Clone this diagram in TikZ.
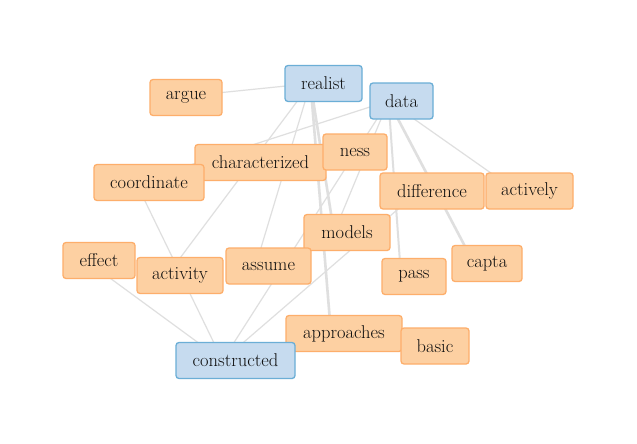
\documentclass[tikz,border=0pt]{standalone}
\usetikzlibrary{backgrounds}
\definecolor{orangeF}{RGB}{253,208,162}
\definecolor{orangeB}{RGB}{253,174,107}
\definecolor{blueF}{RGB}{198,219,239}
\definecolor{blueB}{RGB}{107,174,214}
\definecolor{edgegray}{RGB}{223,223,223}
\definecolor{txt}{RGB}{15,15,15}
\begin{document}
\begin{tikzpicture}[x=1pt,y=-1pt,
  box/.style={rounded corners=3pt, line width=1.3pt, minimum height=36pt, inner sep=0pt,
    font=\fontsize{18.5}{22}\selectfont, text=txt},
  term/.style={box, draw=orangeB, fill=orangeF},
  keyterm/.style={box, draw=blueB, fill=blueF},
  link/.style={draw=edgegray, line width=1.2pt},
  midlink/.style={draw=edgegray, line width=2pt},
  stronglink/.style={draw=edgegray, line width=2.6pt}]
\useasboundingbox (0,0) rectangle (637,444);
\node[keyterm, minimum width=77pt] (realist) at (323.5,83.5) {realist};
\node[keyterm, minimum width=63pt] (data) at (401.5,101) {data};
\node[term, minimum width=72pt] (argue) at (186,97.5) {argue};
\node[term, minimum width=131pt] (characterized) at (260.5,162.5) {characterized};
\node[term, minimum width=110pt] (coordinate) at (149,182.5) {coordinate};
\node[term, minimum width=64pt] (ness) at (355,152) {ness};
\node[term, minimum width=104pt] (difference) at (432,191) {difference};
\node[term, minimum width=87pt] (actively) at (529.5,191) {actively};
\node[term, minimum width=86pt] (models) at (347,232.5) {models};
\node[term, minimum width=72pt] (effect) at (99,260.5) {effect};
\node[term, minimum width=86pt] (activity) at (180,275.5) {activity};
\node[term, minimum width=85pt] (assume) at (268.5,266) {assume};
\node[term, minimum width=70pt] (capta) at (487,263.5) {capta};
\node[term, minimum width=64pt] (pass) at (414,276.5) {pass};
\node[term, minimum width=116pt] (approaches) at (344,333.5) {approaches};
\node[term, minimum width=68pt] (basic) at (435,346) {basic};
\node[keyterm, minimum width=119pt] (constructed) at (235.5,360.5) {constructed};
\begin{scope}[on background layer]
\fill[white] (0,0) rectangle (637,444);
\foreach \n in {realist,data,argue,coordinate,difference,actively,models,effect,activity,assume,capta,pass,approaches,constructed}
  {\coordinate (\n-p) at ([xshift=-13pt]\n.center);}
\draw[link] (realist-p) -- (argue-p);
\draw[link] (realist-p) -- (activity-p);
\draw[link] (realist-p) -- (assume-p);
\draw[stronglink] (realist-p) -- (models-p);
\draw[stronglink] (realist-p) -- (approaches-p);
\draw[link] (data-p) -- (coordinate-p);
\draw[link] (data-p) -- (models-p);
\draw[link] (data-p) -- (constructed-p);
\draw[midlink] (data-p) -- (pass-p);
\draw[stronglink] (data-p) -- (capta-p);
\draw[link] (data-p) -- (actively-p);
\draw[link] (difference-p) -- (constructed-p);
\draw[link] (coordinate-p) -- (constructed-p);
\draw[link] (effect-p) -- (constructed-p);
\end{scope}
\end{tikzpicture}
\end{document}
